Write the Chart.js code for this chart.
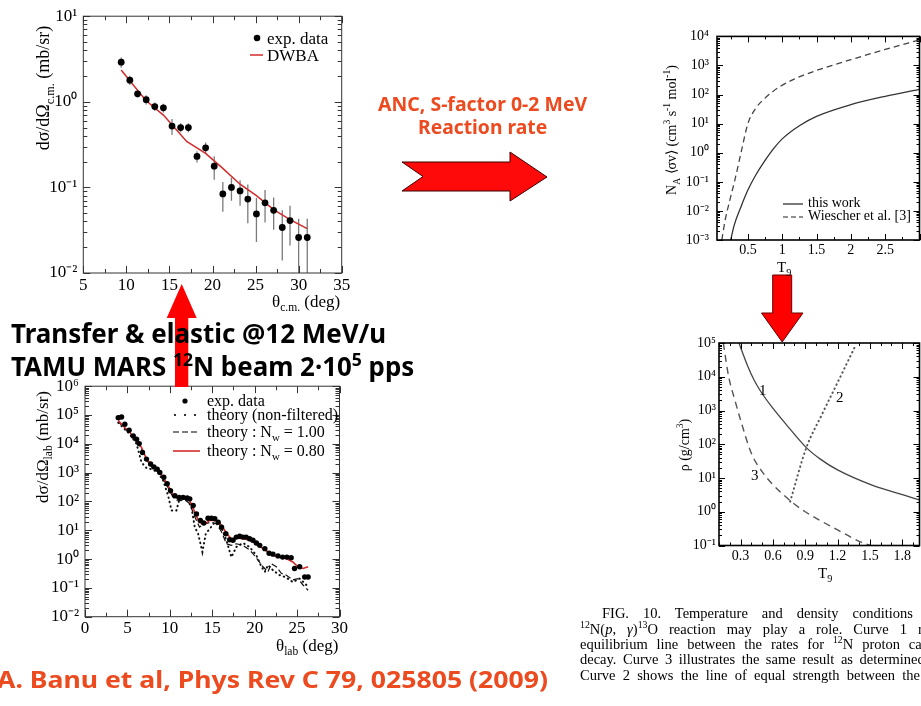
<!DOCTYPE html>
<html>
<head>
<meta charset="utf-8">
<script src="https://cdn.jsdelivr.net/npm/chart.js@4.4.1/dist/chart.umd.min.js"></script>
<style>
  html, body { margin: 0; padding: 0; background: #fff; }
  #page { position: relative; width: 921px; height: 706px; overflow: hidden; background: #fff; }
  canvas, svg { position: absolute; left: 0; top: 0; }
  .t { position: absolute; white-space: nowrap; line-height: 1; color: #000;
       font-family: 'Liberation Serif', 'Times New Roman', serif; }
  .c { transform: translateY(-50%); }
  .r { transform: translate(-50%, -50%) rotate(-90deg); }
  .cap { font-size: 14.5px; }
  .big { position: absolute; white-space: nowrap; line-height: 1; font-weight: 700;
         font-family: 'Noto Sans', 'DejaVu Sans', sans-serif; transform-origin: 0 50%; }
  .orange { color: #ec4a1f; }
  sub, sup { font-size: 68%; line-height: 0; }
</style>
</head>
<body>
<div id="page">
  <canvas id="transferChart"></canvas>
  <canvas id="elasticChart"></canvas>
  <canvas id="rateChart"></canvas>
  <canvas id="densityChart"></canvas>

  <svg width="921" height="706">
    <!-- arrows -->
    <polygon points="402,162 510,162 510,152 547,177 510,201 510,191 402,191 423,176.5" fill="#ff0a0a" stroke="#3a0000" stroke-width="1"/>
    <polygon points="181.7,284 196.7,318 188.3,318 188.3,387 175,387 175,318 166.7,318" fill="#ff0000"/>
    <polygon points="772.7,275 791.7,275 791.7,313 803,313 782.2,342 761.5,313 772.7,313" fill="#ff0000" stroke="#600" stroke-width="1"/>
    <!-- legend samples -->
    <circle cx="257" cy="38" r="3.3" fill="#000"/>
    <line x1="250" y1="55" x2="263" y2="55" stroke="#d42b2b" stroke-width="1.5"/>
    <circle cx="185" cy="401" r="2.6" fill="#000"/>
    <circle cx="175" cy="415" r="1.1" fill="#000"/>
    <circle cx="185" cy="415" r="1.1" fill="#000"/>
    <circle cx="195" cy="415" r="1.1" fill="#000"/>
    <line x1="173" y1="432" x2="200" y2="432" stroke="#000" stroke-width="1.2" stroke-dasharray="6 3"/>
    <line x1="173" y1="451" x2="200" y2="451" stroke="#d42b2b" stroke-width="1.6"/>
    <line x1="783" y1="204" x2="803" y2="204" stroke="#222" stroke-width="1.2"/>
    <line x1="783" y1="217" x2="803" y2="217" stroke="#222" stroke-width="1.2" stroke-dasharray="5 3"/>
  </svg>

  <!-- transfer panel texts -->
  <div class="t r" style="left:43px;top:88px;font-size:18px">dσ/dΩ<sub>c.m.</sub> (mb/sr)</div>
  <div class="t c" style="left:272px;top:301px;font-size:17px">θ<sub>c.m.</sub> (deg)</div>
  <div class="t c" style="left:267px;top:38px;font-size:17px">exp. data</div>
  <div class="t c" style="left:267px;top:55px;font-size:17px">DWBA</div>

  <!-- elastic panel texts -->
  <div class="t r" style="left:42px;top:447px;font-size:17px">dσ/dΩ<sub>lab</sub> (mb/sr)</div>
  <div class="t c" style="left:276px;top:645px;font-size:17px">θ<sub>lab</sub> (deg)</div>
  <div class="t c" style="left:207px;top:401px;font-size:16px">exp. data</div>
  <div class="t c" style="left:207px;top:415px;font-size:16px">theory (non-filtered)</div>
  <div class="t c" style="left:207px;top:432px;font-size:16px">theory : N<sub>w</sub> = 1.00</div>
  <div class="t c" style="left:207px;top:451px;font-size:16px">theory : N<sub>w</sub> = 0.80</div>

  <!-- rate panel texts -->
  <div class="t r" style="left:672px;top:130px;font-size:14px">N<sub>A</sub> ⟨σv⟩ (cm<sup>3</sup> s<sup>-1</sup> mol<sup>-1</sup>)</div>
  <div class="t c" style="left:777px;top:267px;font-size:15px">T<sub>9</sub></div>
  <div class="t c" style="left:808px;top:203px;font-size:14px">this work</div>
  <div class="t c" style="left:808px;top:216px;font-size:14px">Wiescher et al. [3]</div>

  <!-- density panel texts -->
  <div class="t r" style="left:685px;top:445px;font-size:14px">ρ (g/cm<sup>3</sup>)</div>
  <div class="t c" style="left:818px;top:573px;font-size:15px">T<sub>9</sub></div>
  <div class="t c" style="left:759px;top:390px;font-size:15px">1</div>
  <div class="t c" style="left:836px;top:397px;font-size:15px">2</div>
  <div class="t c" style="left:751px;top:475px;font-size:15px">3</div>

  <!-- banners -->
  <div class="big orange fit" data-cx="482.5" data-w="209" style="top:103.5px;font-size:19px">ANC, S-factor 0-2 MeV</div>
  <div class="big orange fit" data-cx="482.7" data-w="129" style="top:127px;font-size:19px">Reaction rate</div>
  <div class="big fit" data-left="11" data-w="375" style="top:333px;font-size:26px">Transfer &amp; elastic @12 MeV/u</div>
  <div class="big fit" data-left="11" data-w="403" style="top:366px;font-size:26px">TAMU MARS <sup>12</sup>N beam 2·10<sup>5</sup> pps</div>
  <div class="big orange fit" data-left="-3" data-w="551" style="top:679px;font-size:24px">A. Banu et al, Phys Rev C 79, 025805 (2009)</div>

  <!-- caption -->
  <div class="t c cap just" data-right="913" style="left:602px;top:613px"><span class="shown">FIG. 10. Temperature and density conditions</span> under which the</div>
  <div class="t c cap just" data-right="907" style="left:580px;top:629px"><span class="shown"><sup>12</sup>N(<i>p</i>, <i>γ</i>)<sup>13</sup>O reaction may play a role. Curve 1</span> represents the</div>
  <div class="t c cap just" data-right="900" style="left:580px;top:644px"><span class="shown">equilibrium line between the rates for <sup>12</sup>N proton</span> capture and</div>
  <div class="t c cap just" data-right="853" style="left:580px;top:659px"><span class="shown">decay. Curve 3 illustrates the same result as</span> determined in Ref.</div>
  <div class="t c cap just" data-right="920" style="left:580px;top:675px"><span class="shown">Curve 2 shows the line of equal strength between the</span></div>
</div>

<script>
// transfer reaction, angular distribution (top left)
const transferAngle = [9.4, 10.4, 11.3, 12.3, 13.3, 14.3, 15.3, 16.3, 17.2, 18.2, 19.2, 20.2, 21.2, 22.2, 23.2, 24.1, 25.1, 26.1, 27.1, 28.1, 29.0, 30.0, 31.0];
const transferXsec = [2.9, 1.79, 1.24, 1.06, 0.88, 0.85, 0.52, 0.50, 0.50, 0.23, 0.29, 0.177, 0.084, 0.10, 0.091, 0.073, 0.049, 0.066, 0.054, 0.034, 0.041, 0.026, 0.026];
const transferError = [0.4, 0.22, 0.12, 0.13, 0.1, 0.1, 0.11, 0.06, 0.06, 0.035, 0.045, 0.054, 0.032, 0.03, 0.03, 0.035, 0.026, 0.027, 0.022, 0.02, 0.02, 0.017, 0.017];
const dwbaAngle = [9.4, 10.4, 12.3, 14.3, 15.3, 17.0, 19.2, 21.1, 23.2, 25.1, 27.1, 29.0, 31.0];
const dwbaXsec = [2.35, 1.76, 1.03, 0.70, 0.54, 0.344, 0.25, 0.17, 0.109, 0.080, 0.055, 0.042, 0.033];

// elastic scattering (bottom left)
const elasticAngle = [3.92, 4.31, 4.70, 5.20, 5.69, 6.08, 6.39, 6.78, 7.25, 7.73, 8.12, 8.51, 8.82, 9.29, 9.69, 10.08, 10.59, 11.10, 11.57, 12.04, 12.35, 12.75, 13.14, 13.60, 14.00, 14.50, 14.90, 15.30, 15.70, 16.10, 16.60, 17.06, 17.45, 17.84, 18.24, 18.63, 19.00, 19.40, 19.80, 20.20, 20.60, 21.20, 21.70, 22.16, 22.75, 23.30, 23.80, 24.30, 24.70, 25.30, 25.90, 26.30];
const elasticXsec = [81000, 85000, 48000, 29500, 18600, 14500, 10200, 5000, 2950, 2000, 1580, 1320, 1020, 690, 410, 234, 158, 138, 138, 132, 123, 72, 37, 22, 17.8, 26, 26, 25, 19, 12.9, 7.6, 4.7, 4.5, 5.8, 6.2, 5.8, 5.8, 5.1, 4.5, 3.6, 3.0, 2.3, 1.6, 1.48, 1.29, 1.17, 1.17, 1.12, 0.47, 0.54, 0.24, 0.24];
const rawTheoryAngle = [3.92, 4.71, 5.29, 6.08, 6.67, 7.25, 7.84, 8.63, 9.22, 9.80, 10.2, 10.78, 11.18, 11.96, 12.55, 12.94, 13.33, 13.84, 14.24, 14.7, 15.3, 15.9, 16.67, 17.25, 17.84, 18.63, 19.4, 20.2, 20.8, 21.2, 21.57, 22.16, 22.9, 23.7, 24.5, 25.3, 26.1, 26.5];
const rawTheoryXsec = [53700, 31600, 21400, 9800, 2240, 1450, 1320, 1020, 525, 158, 49, 49, 138, 132, 63, 12.9, 7.6, 1.78, 7.6, 11.2, 19.1, 16.6, 4.5, 1.17, 2.63, 3.6, 2.63, 1.35, 0.54, 0.36, 0.62, 0.41, 0.28, 0.23, 0.16, 0.21, 0.126, 0.135];
const nw100Angle = [3.92, 4.71, 5.69, 6.67, 7.25, 7.84, 8.63, 9.22, 9.80, 10.31, 10.78, 11.18, 11.76, 12.35, 12.82, 13.5, 14.1, 14.9, 15.5, 16.1, 16.67, 17.25, 17.84, 18.63, 19.2, 19.8, 20.4, 20.98, 21.57, 21.96, 22.55, 23.14, 23.7, 24.5, 25.1, 25.7, 26.3];
const nw100Xsec = [60300, 33100, 16600, 6600, 2630, 1660, 1100, 617, 302, 151, 112, 107, 112, 85, 35.5, 12.9, 16.6, 19.1, 16.6, 8.7, 3.4, 3.0, 3.4, 3.0, 2.3, 1.55, 0.91, 0.54, 0.36, 0.69, 0.54, 0.32, 0.28, 0.19, 0.21, 0.126, 0.083];
const nw080Angle = [3.92, 4.71, 5.69, 6.67, 7.25, 7.84, 8.63, 9.22, 9.80, 10.31, 10.78, 11.18, 11.76, 12.35, 12.82, 13.45, 14.0, 14.7, 15.5, 16.1, 16.67, 17.25, 17.84, 18.63, 19.2, 19.8, 20.6, 21.4, 22.16, 22.9, 23.7, 24.5, 25.1, 25.7, 26.3];
const nw080Xsec = [64600, 36300, 18600, 7400, 2950, 1860, 1230, 690, 355, 182, 132, 126, 132, 107, 51, 19.1, 15.8, 21.9, 21.9, 14.8, 7.9, 5.1, 5.4, 5.1, 4.7, 3.9, 2.75, 1.91, 1.35, 1.17, 1.05, 0.79, 0.54, 0.47, 0.54];

// reaction rate (top right)
const thisWorkT9 = [0.25, 0.3, 0.4, 0.5, 0.6, 0.75, 0.88, 1.0, 1.25, 1.5, 2.0, 2.5, 3.0];
const thisWorkRate = [0.001, 0.0032, 0.014, 0.052, 0.15, 0.55, 1.45, 3.0, 8.5, 17.8, 45, 87, 150];
const wiescherT9 = [0.12, 0.17, 0.24, 0.31, 0.40, 0.50, 0.62, 0.74, 0.86, 0.97, 1.2, 1.5, 2.0, 2.5, 3.0];
const wiescherRate = [0.001, 0.005, 0.025, 0.115, 1.0, 10, 35, 72, 126, 190, 363, 676, 1580, 3550, 7600];

// temperature / density conditions (bottom right)
const curve1T9 = [0.285, 0.363, 0.424, 0.486, 0.594, 0.73, 0.91, 1.04, 1.20, 1.52, 1.81, 1.96];
const curve1Rho = [100000, 21900, 8130, 3720, 1230, 363, 79.4, 36.3, 17.4, 6.17, 3.16, 2.24];
const curve2T9 = [0.76, 0.91, 1.05, 1.20, 1.37];
const curve2Rho = [2.0, 79, 710, 6760, 89100];
const curve3T9 = [0.14, 0.19, 0.25, 0.30, 0.40, 0.50, 0.59, 0.79, 0.90, 1.20, 1.41, 1.55];
const curve3Rho = [100000, 10000, 1900, 525, 54, 15.5, 6.9, 1.78, 1.0, 0.29, 0.129, 0.089];

const RED = '#d42b2b';
const SUP = {'-': '⁻', '0': '⁰', '1': '¹', '2': '²', '3': '³', '4': '⁴', '5': '⁵', '6': '⁶'};

const zip = (xs, ys) => xs.map((x, i) => ({x: x, y: ys[i]}));

function decades(min, max) {
  const out = [];
  for (let p = Math.round(Math.log10(min)); p <= Math.round(Math.log10(max)); p++) {
    out.push(Math.pow(10, p));
  }
  return out;
}

function powLabel(v) {
  const p = String(Math.round(Math.log10(v)));
  return '10' + p.split('').map(c => SUP[c]).join('');
}

// frame around the plot area with inward ticks on all four sides
const frameTicks = {
  id: 'frameTicks',
  afterDatasetsDraw(chart, args, o) {
    const {ctx, chartArea: a} = chart;
    const x = chart.scales.x, y = chart.scales.y;
    ctx.save();
    ctx.strokeStyle = o.color;
    ctx.lineWidth = 1;
    ctx.beginPath();
    const every = Math.round(o.xMajor / o.xMinor);
    const n0 = Math.ceil(x.min / o.xMinor - 1e-6), n1 = Math.floor(x.max / o.xMinor + 1e-6);
    for (let i = n0; i <= n1; i++) {
      const px = Math.round(x.getPixelForValue(i * o.xMinor)) + 0.5;
      const len = i % every === 0 ? o.major : o.minor;
      ctx.moveTo(px, a.bottom); ctx.lineTo(px, a.bottom - len);
      ctx.moveTo(px, a.top); ctx.lineTo(px, a.top + len);
    }
    const p0 = Math.floor(Math.log10(y.min)), p1 = Math.ceil(Math.log10(y.max));
    for (let p = p0; p <= p1; p++) {
      for (let m = 1; m <= 9; m++) {
        const v = m * Math.pow(10, p);
        if (v < y.min * 0.999 || v > y.max * 1.001) continue;
        const py = Math.round(y.getPixelForValue(v)) + 0.5;
        const len = m === 1 ? o.major : o.minor;
        ctx.moveTo(a.left, py); ctx.lineTo(a.left + len, py);
        ctx.moveTo(a.right, py); ctx.lineTo(a.right - len, py);
      }
    }
    ctx.stroke();
    ctx.lineWidth = o.frameWidth;
    ctx.strokeRect(a.left, a.top, a.right - a.left, a.bottom - a.top);
    ctx.restore();
  }
};

// vertical error bars for datasets carrying an `errors` array
const errorBars = {
  id: 'errorBars',
  beforeDatasetsDraw(chart) {
    const {ctx, chartArea: a} = chart;
    const x = chart.scales.x, y = chart.scales.y;
    ctx.save();
    ctx.beginPath();
    ctx.rect(a.left, a.top, a.right - a.left, a.bottom - a.top);
    ctx.clip();
    chart.data.datasets.forEach(ds => {
      if (!ds.errors) return;
      ctx.strokeStyle = ds.errorColor;
      ctx.lineWidth = 1.3;
      ctx.beginPath();
      ds.data.forEach((pt, i) => {
        const e = ds.errors[i];
        const px = x.getPixelForValue(pt.x);
        ctx.moveTo(px, y.getPixelForValue(pt.y + e));
        ctx.lineTo(px, y.getPixelForValue(Math.max(pt.y - e, y.min / 100)));
      });
      ctx.stroke();
    });
    ctx.restore();
  }
};

function makePlot(id, box, area, axes, datasets) {
  const cv = document.getElementById(id);
  cv.width = box.w;
  cv.height = box.h;
  cv.style.left = box.x + 'px';
  cv.style.top = box.y + 'px';
  const font = {family: "'Liberation Serif', 'Times New Roman', serif", size: axes.fontSize};
  return new Chart(cv, {
    type: 'scatter',
    data: {datasets: datasets},
    options: {
      responsive: false,
      animation: false,
      events: [],
      layout: {autoPadding: false, padding: {top: area.t - box.y, right: box.x + box.w - area.r, left: 0, bottom: 0}},
      plugins: {legend: {display: false}, tooltip: {enabled: false}, frameTicks: axes.frame},
      scales: {
        x: {
          type: 'linear', min: axes.xMin, max: axes.xMax,
          grid: {display: false, drawTicks: false}, border: {display: false},
          ticks: {font: font, color: '#000', padding: axes.xPad, autoSkip: false, maxRotation: 0,
                  callback: v => String(+v.toFixed(2))},
          afterBuildTicks: s => { s.ticks = axes.xTicks.map(v => ({value: v})); },
          afterFit: s => { s.height = box.y + box.h - area.b; }
        },
        y: {
          type: 'logarithmic', min: axes.yMin, max: axes.yMax,
          grid: {display: false, drawTicks: false}, border: {display: false},
          ticks: {font: font, color: '#000', padding: axes.yPad, autoSkip: false, callback: v => powLabel(v)},
          afterBuildTicks: s => { s.ticks = decades(axes.yMin, axes.yMax).map(v => ({value: v})); },
          afterFit: s => { s.width = area.l - box.x; }
        }
      }
    },
    plugins: [errorBars, frameTicks]
  });
}

const curve = (data, color, width, dash, extra) => Object.assign({
  data: data, showLine: true, borderColor: color, borderWidth: width, borderDash: dash || [],
  pointRadius: 0, fill: false
}, extra || {});

makePlot('transferChart', {x: 0, y: 0, w: 360, h: 300}, {l: 83.3, t: 16, r: 341.7, b: 273},
  {xMin: 5, xMax: 35, yMin: 0.01, yMax: 10, xTicks: [5, 10, 15, 20, 25, 30, 35], fontSize: 17, xPad: 2, yPad: 6,
   frame: {color: '#333', frameWidth: 1, xMinor: 2.5, xMajor: 5, major: 7, minor: 4}},
  [
    {data: zip(transferAngle, transferXsec), errors: transferError, errorColor: '#7a7a7a',
     pointRadius: 3.4, backgroundColor: '#000', borderWidth: 0, showLine: false},
    curve(zip(dwbaAngle, dwbaXsec), RED, 1.5)
  ]);

makePlot('elasticChart', {x: 0, y: 370, w: 360, h: 280}, {l: 85, t: 385, r: 339.5, b: 616.7},
  {xMin: 0, xMax: 30, yMin: 0.01, yMax: 1e6, xTicks: [0, 5, 10, 15, 20, 25, 30], fontSize: 17, xPad: 2, yPad: 6,
   frame: {color: '#333', frameWidth: 1, xMinor: 2.5, xMajor: 5, major: 7, minor: 4}},
  [
    {data: zip(elasticAngle, elasticXsec), pointRadius: 2.7, backgroundColor: '#000', borderWidth: 0, showLine: false},
    curve(zip(nw080Angle, nw080Xsec), RED, 1.6),
    curve(zip(nw100Angle, nw100Xsec), '#111', 1.2, [6, 3]),
    curve(zip(rawTheoryAngle, rawTheoryXsec), '#111', 2, [0.5, 4], {borderCapStyle: 'round'})
  ]);

makePlot('rateChart', {x: 630, y: 20, w: 291, h: 245}, {l: 717, t: 35, r: 919.5, b: 240},
  {xMin: 0.05, xMax: 3.0, yMin: 0.001, yMax: 1e4, xTicks: [0.5, 1, 1.5, 2, 2.5], fontSize: 14, xPad: 2, yPad: 8,
   frame: {color: '#000', frameWidth: 1.6, xMinor: 0.25, xMajor: 0.5, major: 6, minor: 3}},
  [
    curve(zip(thisWorkT9, thisWorkRate), '#333', 1.3, [], {cubicInterpolationMode: 'monotone'}),
    curve(zip(wiescherT9, wiescherRate), '#444', 1.3, [6, 4], {cubicInterpolationMode: 'monotone'})
  ]);

makePlot('densityChart', {x: 630, y: 330, w: 291, h: 240}, {l: 719, t: 343, r: 919.5, b: 545.5},
  {xMin: 0.1, xMax: 1.96, yMin: 0.1, yMax: 1e5, xTicks: [0.3, 0.6, 0.9, 1.2, 1.5, 1.8], fontSize: 14, xPad: 2, yPad: 3,
   frame: {color: '#000', frameWidth: 1.6, xMinor: 0.1, xMajor: 0.3, major: 6, minor: 3}},
  [
    curve(zip(curve1T9, curve1Rho), '#444', 1.3, [], {cubicInterpolationMode: 'monotone'}),
    curve(zip(curve2T9, curve2Rho), '#555', 2, [0.5, 4], {borderCapStyle: 'round', cubicInterpolationMode: 'monotone'}),
    curve(zip(curve3T9, curve3Rho), '#555', 1.4, [7, 5], {cubicInterpolationMode: 'monotone'})
  ]);

// squeeze banner texts to their measured widths
document.querySelectorAll('.fit').forEach(el => {
  const target = parseFloat(el.dataset.w);
  const k = target / el.offsetWidth;
  const left = el.dataset.cx !== undefined ? parseFloat(el.dataset.cx) - target / 2 : parseFloat(el.dataset.left);
  el.style.left = left + 'px';
  el.style.transform = 'translateY(-50%) scaleX(' + k + ')';
});

// justified caption lines: stretch word gaps so the shown part ends at data-right
document.querySelectorAll('.just').forEach(el => {
  const shown = el.querySelector('.shown');
  const natural = shown.getBoundingClientRect().width;
  const gaps = (shown.textContent.match(/ /g) || []).length;
  const want = parseFloat(el.dataset.right) - el.offsetLeft;
  el.style.wordSpacing = ((want - natural) / gaps) + 'px';
});
</script>
</body>
</html>
